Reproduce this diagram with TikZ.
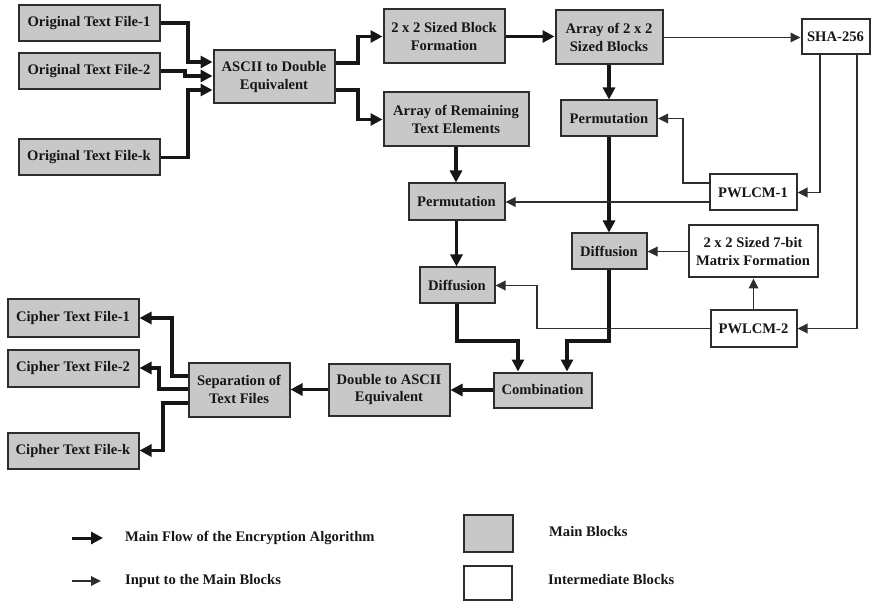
\documentclass[tikz,border=0pt]{standalone}
\usepackage{fontspec}
\setmainfont{Liberation Serif}
\usetikzlibrary{arrows.meta,calc}
\definecolor{boxgray}{RGB}{200,200,200}
\definecolor{edge}{RGB}{45,45,45}
\definecolor{ink}{RGB}{22,22,22}
\begin{document}
\begin{tikzpicture}[x=1pt,y=-1pt,
  lbl/.style={font=\fontsize{14.6}{17.5}\selectfont\bfseries, text=ink, align=center, inner sep=0pt},
  mainbox/.style={lbl, draw=edge, line width=2pt, fill=boxgray},
  midbox/.style={lbl, draw=edge, line width=2pt, fill=white},
  main/.style={draw=ink, line width=3.2pt, -{Triangle[length=12pt,width=12pt]}},
  aux/.style={draw=edge, line width=1.8pt, -{Triangle[length=10pt,width=9.5pt]}},
]
\useasboundingbox (0,0) rectangle (872,601);

% ---------- input files ----------
\node[mainbox, minimum width=141pt, minimum height=36pt] (ot1) at (89,23)    {Original Text File-1};
\node[mainbox, minimum width=141pt, minimum height=36pt] (ot2) at (89,71)    {Original Text File-2};
\node[mainbox, minimum width=141pt, minimum height=36pt] (otk) at (89,157.5) {Original Text File-k};

% ---------- main chain ----------
\node[mainbox, minimum width=121pt, minimum height=53pt] (ascii)  at (274,77)    {ASCII to Double\\Equivalent};
\node[mainbox, minimum width=121pt, minimum height=54pt] (blockf) at (444,36.5)  {2 x 2 Sized Block\\Formation};
\node[mainbox, minimum width=145pt, minimum height=54pt] (remain) at (456,119.5) {Array of Remaining\\Text Elements};
\node[mainbox, minimum width=107pt, minimum height=54pt] (arr22)  at (609,37.5)  {Array of 2 x 2\\Sized Blocks};
\node[mainbox, minimum width=96pt,  minimum height=36pt] (permR)  at (609,118.5) {Permutation};
\node[mainbox, minimum width=96pt,  minimum height=37pt] (permL)  at (456.5,202) {Permutation};
\node[mainbox, minimum width=75pt,  minimum height=36pt] (diffR)  at (609,251.5) {Diffusion};
\node[mainbox, minimum width=75pt,  minimum height=36pt] (diffL)  at (457,285.5) {Diffusion};
\node[mainbox, minimum width=98pt,  minimum height=35pt] (comb)   at (542.5,390) {Combination};
\node[mainbox, minimum width=121pt, minimum height=52pt] (d2a)    at (389,389.5) {Double to ASCII\\Equivalent};
\node[mainbox, minimum width=101pt, minimum height=54pt] (sep)    at (239,389.5) {Separation of\\Text Files};

% ---------- output files ----------
\node[mainbox, minimum width=131pt, minimum height=37pt] (cf1) at (73,318)   {Cipher Text File-1};
\node[mainbox, minimum width=131pt, minimum height=37pt] (cf2) at (73,368)   {Cipher Text File-2};
\node[mainbox, minimum width=131pt, minimum height=36pt] (cfk) at (73,450.5) {Cipher Text File-k};

% ---------- key generation ----------
\node[midbox, minimum width=68pt,  minimum height=35pt] (sha)  at (835.5,37)  {SHA-256};
\node[midbox, minimum width=87pt,  minimum height=36pt] (pw1)  at (753,192.5) {PWLCM-1};
\node[midbox, minimum width=129pt, minimum height=52pt] (mat7) at (753,251.5) {2 x 2 Sized 7-bit\\Matrix Formation};
\node[midbox, minimum width=86pt,  minimum height=36pt] (pw2)  at (753.5,328.5) {PWLCM-2};

% ---------- main flow ----------
\coordinate (a1) at (188,62);
\coordinate (a2) at (185,76);
\coordinate (a3) at (188,90);
\draw[main] (ot1.east) -| (a1) -- (a1 -| ascii.west);
\draw[main] (ot2.east) -| (a2) -- (a2 -| ascii.west);
\draw[main] (otk.east) -| (a3) -- (a3 -| ascii.west);

\coordinate (b1) at (358,63);
\coordinate (b2) at (358,90);
\draw[main] (b1 -| ascii.east) -- (b1) |- (blockf.west);
\draw[main] (b2 -| ascii.east) -- (b2) |- (remain.west);

\draw[main] (blockf.east) -- (blockf.east -| arr22.west);
\draw[main] (arr22.south) -- (permR.north);
\draw[main] (permR.south) -- (diffR.north);
\draw[main] (remain.south) -- (remain.south |- permL.north);
\draw[main] (permL.south) -- (permL.south |- diffL.north);

\coordinate (m1) at (567,341);
\coordinate (m2) at (518,341);
\draw[main] (diffR.south) |- (m1) -- (m1 |- comb.north);
\draw[main] (diffL.south) |- (m2) -- (m2 |- comb.north);

\draw[main] (comb.west) -- (comb.west -| d2a.east);
\draw[main] (d2a.west) -- (d2a.west -| sep.east);

\coordinate (s1) at (172,376);
\coordinate (s2) at (159,389);
\coordinate (s3) at (163,403);
\draw[main] (s1 -| sep.west) -- (s1) |- (cf1.east);
\draw[main] (s2 -| sep.west) -- (s2) |- (cf2.east);
\draw[main] (s3 -| sep.west) -- (s3) |- (cfk.east);

% ---------- inputs to the main blocks ----------
\draw[aux] (arr22.east) -- (arr22.east -| sha.west);

\coordinate (h1) at (820,0);
\coordinate (h2) at (857,0);
\draw[aux] (h1 |- sha.south) |- (pw1.east);
\draw[aux] (h2 |- sha.south) |- (pw2.east);

\coordinate (p1) at (683,183);
\draw[aux] (p1 -| pw1.west) -- (p1) |- (permR.east);
\draw[aux] (permL.east -| pw1.west) -- (permL.east);

\draw[aux] (mat7.west) -- (mat7.west -| diffR.east);
\draw[aux] (pw2.north) -- (pw2.north |- mat7.south);

\coordinate (q1) at (537,0);
\draw[aux] (pw2.west) -- (pw2.west -| q1) |- (diffL.east);

% ---------- legend ----------
\coordinate (lm0) at (72,538);
\coordinate (lm1) at (103,538);
\coordinate (li0) at (72,581);
\coordinate (li1) at (101,581);
\draw[main, line width=3pt] (lm0) -- (lm1);
\draw[aux] (li0) -- (li1);
\node[lbl, anchor=west] (lgmain) at (125,538) {Main Flow of the Encryption Algorithm};
\node[lbl, anchor=west] (lginput) at (125,581) {Input to the Main Blocks};

\node[mainbox, minimum width=49pt, minimum height=37pt] (lgbox1) at (488,533) {};
\node[midbox,  minimum width=48pt, minimum height=34pt] (lgbox2) at (487.5,582.5) {};
\node[lbl, anchor=west] (lgmb) at (549,532) {Main Blocks};
\node[lbl, anchor=west] (lgib) at (548,580) {Intermediate Blocks};
\end{tikzpicture}
\end{document}
